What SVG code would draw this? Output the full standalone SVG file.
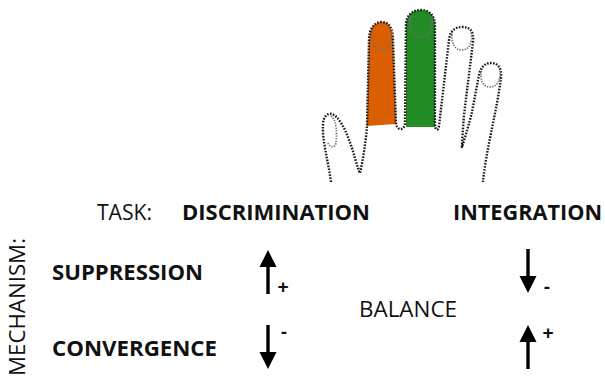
<svg xmlns="http://www.w3.org/2000/svg" width="605" height="379" viewBox="0 0 605 379">
  <style>
    .lbl { font-family: "Open Sans", "Liberation Sans", Arial, sans-serif; font-size: 21px; fill: #111; }
    .b { font-weight: bold; }
    .sign { font-family: "Liberation Sans", Arial, sans-serif; font-size: 19px; font-weight: bold; fill: #111; text-anchor: middle; }
    .outline { fill: none; stroke: #1a1a1a; stroke-width: 2.4; stroke-dasharray: 1.6 1.4; stroke-linejoin: round; }
    .nail { fill: none; stroke: #6f6f6f; stroke-width: 1.7; stroke-dasharray: 1.3 1.3; }
  </style>
  <defs>
    <!-- arrow pointing up, tip at origin -->
    <g id="arrowUp">
      <polygon points="0,0 8.5,17 -8.5,17" fill="#000"/>
      <rect x="-1.7" y="16" width="3.4" height="28" fill="#000"/>
    </g>
  </defs>
  <rect width="605" height="379" fill="#fff"/>

  <!-- hand -->
  <g id="hand">
    <!-- highlighted fingers -->
    <path id="finger-index" d="M367,126 L369,40 C369,28 375,22 382,22 C390,22 393,30 393,40 L396,124 Z" fill="#d95f02"/>
    <path id="finger-middle" d="M406,127 L406,25 C406,15 413,10 421,10 C430,10 435,16 435,26 L435,127 Z" fill="#238b24"/>
    <!-- outline -->
    <path class="outline" d="M331,182 C328,160 322,140 323,125 C323,116 328,113 332,114 C338,116 345,128 349,140 C354,152 357,168 360,173 C363,160 366,140 367,126 L369,40 C369,28 375,22 382,22 C390,22 393,30 393,40 L396,124 C397,130 403,131 405,125 L406,25 C406,15 413,10 421,10 C430,10 435,16 435,26 L435,124 C435,130 438,132 439,126 L449,40 C450,31 455,27 462,27 C470,27 474,31 473,42 L464,115 C463,130 462,140 462,147 C466,135 470,120 472,112 L479,75 C481,66 486,63 491,63 C498,63 502,68 501,78 C497,110 486,150 483,182"/>
    <!-- nails -->
    <path class="nail" d="M331,116 C337,120 337,135 336,143 C335,148 330,148 328,143"/>
    <path class="nail" d="M372,30 C371,42 374,50 382,50 C390,50 393,42 392,30"/>
    <path class="nail" d="M410,16 C409,30 413,37 421,37 C429,37 433,30 432,16"/>
    <path class="nail" d="M452,32 C451,44 455,50 462,50 C469,50 473,43 471,32"/>
    <path class="nail" d="M482,68 C479,80 483,87 490,87 C497,87 501,80 500,70"/>
  </g>

  <!-- headings -->
  <g id="task">
    <text class="lbl" x="97" y="220" textLength="55" lengthAdjust="spacingAndGlyphs">TASK:</text>
  </g>
  <g id="discrimination">
    <text class="lbl b" x="182" y="220" textLength="188" lengthAdjust="spacingAndGlyphs">DISCRIMINATION</text>
  </g>
  <g id="integration">
    <text class="lbl b" x="453" y="220" textLength="149" lengthAdjust="spacingAndGlyphs">INTEGRATION</text>
  </g>
  <g id="mechanism">
    <text class="lbl" style="font-size:22.5px" transform="translate(25,376) rotate(-90)" textLength="138" lengthAdjust="spacingAndGlyphs">MECHANISM:</text>
  </g>
  <g id="suppression">
    <text class="lbl b" x="52" y="280" textLength="151" lengthAdjust="spacingAndGlyphs">SUPPRESSION</text>
  </g>
  <g id="convergence">
    <text class="lbl b" x="52" y="356" textLength="165" lengthAdjust="spacingAndGlyphs">CONVERGENCE</text>
  </g>
  <g id="balance">
    <text class="lbl" x="359" y="317" textLength="98" lengthAdjust="spacingAndGlyphs">BALANCE</text>
  </g>

  <!-- change arrows -->
  <g id="arrows">
    <use href="#arrowUp" transform="translate(268,250)"/>
    <text class="sign" x="283" y="293">+</text>
    <use href="#arrowUp" transform="translate(268,369) rotate(180)"/>
    <text class="sign" x="284" y="338">-</text>
    <use href="#arrowUp" transform="translate(528,293) rotate(180)"/>
    <text class="sign" x="547" y="293">-</text>
    <use href="#arrowUp" transform="translate(528,325)"/>
    <text class="sign" x="548" y="339">+</text>
  </g>
</svg>
